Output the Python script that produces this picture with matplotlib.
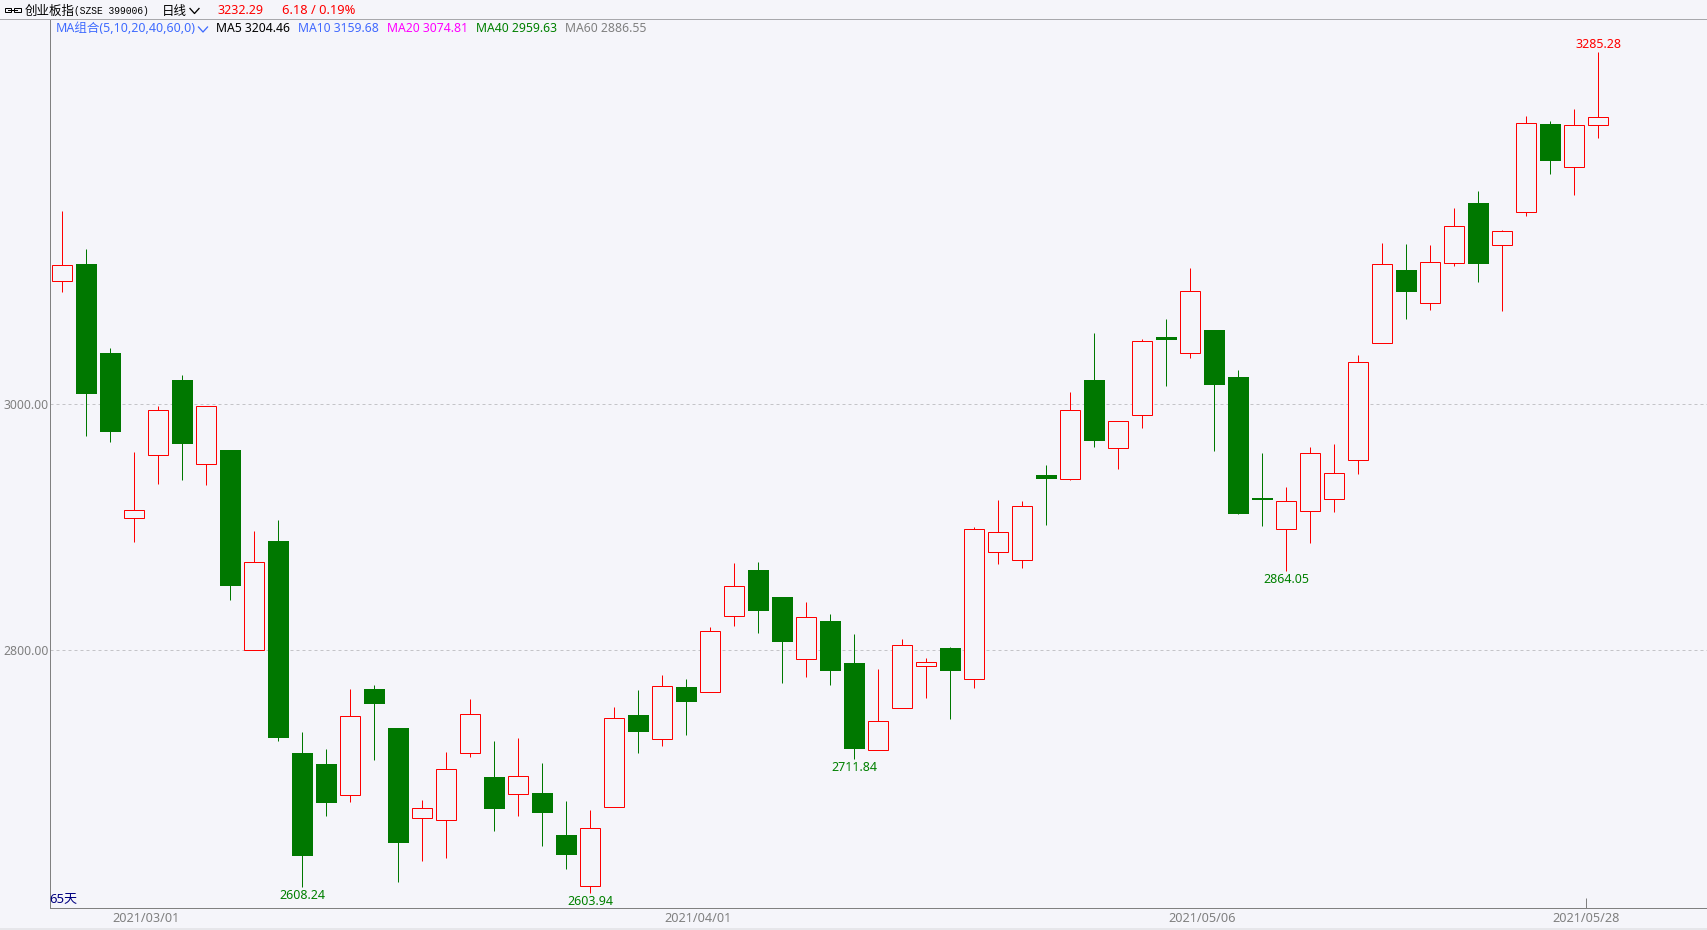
#!/usr/bin/env python3
"""ChiNext index daily candles with the header readout, 1707x930 px."""

import matplotlib
matplotlib.use("Agg")
import matplotlib.pyplot as plt
from matplotlib.lines import Line2D
from matplotlib.patches import Rectangle
import numpy as np

plt.rcParams["font.family"] = ["Noto Sans", "Noto Sans CJK SC", "DejaVu Sans"]

# ------------------------------------------------------------
# data
# ------------------------------------------------------------
opens = [3100.0, 3114.1, 3041.7, 2907.3, 2958.5, 3019.8, 2951.2, 2962.8, 2800.0, 2888.9,
         2716.5, 2707.6, 2682.1, 2768.5, 2736.8, 2663.4, 2661.8, 2716.3, 2697.0, 2682.9,
         2684.0, 2649.8, 2608.1, 2672.4, 2747.4, 2727.6, 2770.2, 2765.9, 2827.6, 2865.3,
         2843.3, 2792.7, 2823.8, 2789.7, 2718.7, 2752.8, 2787.0, 2801.9, 2776.4, 2879.7,
         2873.2, 2942.0, 2939.0, 3019.8, 2964.2, 2991.1, 3054.7, 3041.5, 3060.4, 3022.2,
         2923.8, 2898.4, 2913.0, 2922.8, 2954.5, 3049.6, 3109.2, 3082.1, 3114.6, 3163.7,
         3129.3, 3156.1, 3227.9, 3192.7, 3226.8]
closes = [3113.0, 3007.8, 2976.9, 2913.8, 2995.1, 2967.2, 2998.4, 2851.7, 2871.5, 2728.1,
          2632.2, 2675.3, 2746.3, 2755.8, 2642.8, 2671.5, 2703.3, 2748.0, 2670.4, 2697.6,
          2667.2, 2633.0, 2655.3, 2744.7, 2733.0, 2770.7, 2757.4, 2815.4, 2852.0, 2831.4,
          2806.2, 2826.8, 2782.6, 2719.2, 2742.3, 2804.1, 2790.2, 2782.6, 2898.4, 2895.9,
          2917.1, 2939.3, 2995.1, 2969.6, 2986.2, 3051.2, 3051.7, 3091.9, 3015.1, 2910.2,
          2921.6, 2921.1, 2960.2, 2943.9, 3034.1, 3113.8, 3090.7, 3115.4, 3144.7, 3113.5,
          3140.7, 3228.5, 3197.2, 3226.8, 3233.3]
highs = [3157.2, 3126.3, 3045.8, 2961.2, 2998.6, 3023.8, 2998.4, 2962.8, 2897.0, 2905.9,
         2733.6, 2719.8, 2768.5, 2771.8, 2736.8, 2678.3, 2717.3, 2760.4, 2726.3, 2728.7,
         2708.4, 2677.5, 2670.2, 2753.9, 2767.7, 2779.9, 2776.7, 2818.7, 2871.0, 2871.8,
         2843.3, 2839.3, 2829.5, 2813.3, 2784.8, 2809.2, 2793.7, 2802.7, 2900.0, 2922.2,
         2921.4, 2950.7, 3010.0, 3058.0, 2986.2, 3053.1, 3069.4, 3110.8, 3060.4, 3027.9,
         2960.4, 2932.8, 2965.3, 2967.7, 3040.1, 3131.1, 3130.3, 3129.5, 3159.6, 3173.4,
         3141.5, 3234.4, 3230.3, 3240.1, 3286.4]
lows = [3090.7, 2973.7, 2968.8, 2888.0, 2934.6, 2937.9, 2933.8, 2840.3, 2800.0, 2725.7,
        2607.0, 2664.7, 2676.1, 2710.2, 2611.1, 2628.1, 2630.6, 2712.7, 2652.5, 2664.7,
        2640.3, 2621.6, 2602.1, 2672.4, 2715.9, 2721.6, 2730.6, 2765.9, 2819.2, 2813.5,
        2772.8, 2777.7, 2771.2, 2711.1, 2718.7, 2752.8, 2760.6, 2743.6, 2768.8, 2869.6,
        2866.3, 2901.3, 2937.9, 2964.7, 2946.8, 2980.2, 3014.3, 3037.1, 2961.5, 2910.2,
        2900.5, 2863.9, 2886.7, 2911.9, 2942.8, 3049.6, 3068.8, 3076.1, 3112.4, 3098.9,
        3075.3, 3152.5, 3186.7, 3169.6, 3215.9]

date_slots = [3.48, 26.48, 47.48, 63.5]
date_labels = ["2021/03/01", "2021/04/01", "2021/05/06", "2021/05/28"]
price_ticks = [2800, 3000]

# extreme labels: candle index, printed value
low_marks = [(10, "2608.24"), (22, "2603.94"), (33, "2711.84"), (51, "2864.05")]
high_marks = [(64, "3285.28")]

ma_items = ["MA5 3204.46", "MA10 3159.68", "MA20 3074.81", "MA40 2959.63", "MA60 2886.55"]

# ------------------------------------------------------------
# style
# ------------------------------------------------------------
W, H = 1707, 930
PX = 0.72  # one pixel in points at dpi=100
BG = "#F5F5FA"
RED = "#FF0000"
GREEN = "#007800"
GRAY = "#808080"
FS = 8.8

ma_colors = ["#000000", "#4169FF", "#FF00FF", "#008000", GRAY]
ma_x = [216, 298, 387, 476, 565]

PLOT_L, PLOT_T, PLOT_B = 50.3, 19.2, 908.0
X0, STEP = 62.3, 24.0      # pixel of candle 0, pixels per candle
Y3000, SCALE = 404.0, 1.23  # pixel of 3000, pixels per point


def fig_xy(x, y):
    """Pixel position (top-left origin) to figure fraction."""
    return x / W, 1 - y / H


def head_text(x, y, s, color, **kw):
    fx, fy = fig_xy(x, y)
    kw.setdefault("fontsize", FS)
    return fig.text(fx, fy, s, color=color, va="center", ha="left", **kw)


def chevron(x, y, color):
    xs = np.array([x, x + 4.5, x + 9])
    ys = np.array([y - 2.5, y + 2.5, y - 2.5])
    fig.add_artist(Line2D(xs / W, 1 - ys / H, color=color, lw=1.3 * PX))


# ------------------------------------------------------------
# figure
# ------------------------------------------------------------
fig = plt.figure(figsize=(W / 100, H / 100), dpi=100, facecolor=BG)
ax = fig.add_axes([PLOT_L / W, 1 - PLOT_B / H, (W - PLOT_L) / W, (PLOT_B - PLOT_T) / H])
ax.set_facecolor(BG)
ax.set_xlim((PLOT_L - X0) / STEP, (W - X0) / STEP)
ax.set_ylim(3000 - (PLOT_B - Y3000) / SCALE, 3000 + (Y3000 - PLOT_T) / SCALE)

o, c, hi, lo = map(np.array, (opens, closes, highs, lows))
idx = np.arange(len(o))
up = c >= o

# gridlines, then wicks, then the bodies on top
ax.hlines(price_ticks, *ax.get_xlim(), colors="#C4C4C8", lw=PX, linestyles=(0, (3, 3)), zorder=1)
ax.vlines(idx, lo, hi, colors=[RED if u else GREEN for u in up], lw=PX, zorder=2)

ax.bar(idx[up], (c - o)[up], bottom=o[up], width=20 / STEP,
       facecolor=BG, edgecolor=RED, linewidth=PX, zorder=3)
ax.bar(idx[~up], (c - o)[~up], bottom=o[~up], width=21 / STEP,
       color=GREEN, linewidth=0, zorder=3)

# high / low labels
for i, s in low_marks:
    ax.annotate(s, (i, lo[i]), xytext=(0, -8 * PX), textcoords="offset points",
                ha="center", va="center", color="#008000", fontsize=9.0)
for i, s in high_marks:
    ax.annotate(s, (i, hi[i]), xytext=(0, 7 * PX), textcoords="offset points",
                ha="center", va="center", color=RED, fontsize=9.0)

# axes
for side in ("top", "right"):
    ax.spines[side].set_visible(False)
for side in ("left", "bottom"):
    ax.spines[side].set_color(GRAY)
    ax.spines[side].set_linewidth(PX)

ax.set_yticks(price_ticks, [f"{v:.2f}" for v in price_ticks])
ax.set_xticks(date_slots, date_labels)
ax.tick_params(axis="y", length=0, pad=2 * PX, labelsize=FS, labelcolor=GRAY)
ax.tick_params(axis="x", length=0, pad=3.0, labelsize=9.1, labelcolor=GRAY,
               direction="in", color=GRAY, width=PX)
# only the last date carries a tick
ax.xaxis.get_major_ticks()[-1].tick1line.set_markersize(10 * PX)

# header strip
fig.add_artist(Line2D([0, 1], [1 - PLOT_T / H] * 2, color="#A8A8AC", lw=PX))
for x0 in (4.5, 14):
    fx, fy = fig_xy(x0, 12.5)
    fig.add_artist(Rectangle((fx, fy), 6.5 / W, 4 / H, fill=False, ec="#000000", lw=PX,
                             transform=fig.transFigure))
fig.add_artist(Line2D(np.array([8, 17]) / W, [1 - 10.5 / H] * 2, color="#000000", lw=PX))
head_text(25, 11, "创业板指", "#000000", fontsize=9.0)
head_text(74, 11, "(SZSE 399006)", "#000000", family="Liberation Mono", fontsize=6.9)
head_text(162, 11, "日线", "#000000", fontsize=9.0)
chevron(190, 11, "#000000")
head_text(218, 11, "3232.29", RED, fontsize=9.0)
head_text(282, 11, "6.18 / 0.19%", RED, fontsize=9.3)

head_text(55.5, 28.5, "MA组合(5,10,20,40,60,0)", "#3F6BFF", fontsize=9.0)
chevron(198.5, 29.5, "#3F6BFF")
for x, s, col in zip(ma_x, ma_items, ma_colors):
    head_text(x, 28.5, s, col)

head_text(49.5, 899.5, "65天", "#000080", fontsize=9.4)

# bottom strip
fig.add_artist(Rectangle((0, 0), 1, 2.5 / H, fc="#E6E6EA", ec="none", transform=fig.transFigure))

fig.savefig("out.png", dpi=100, facecolor=BG)
